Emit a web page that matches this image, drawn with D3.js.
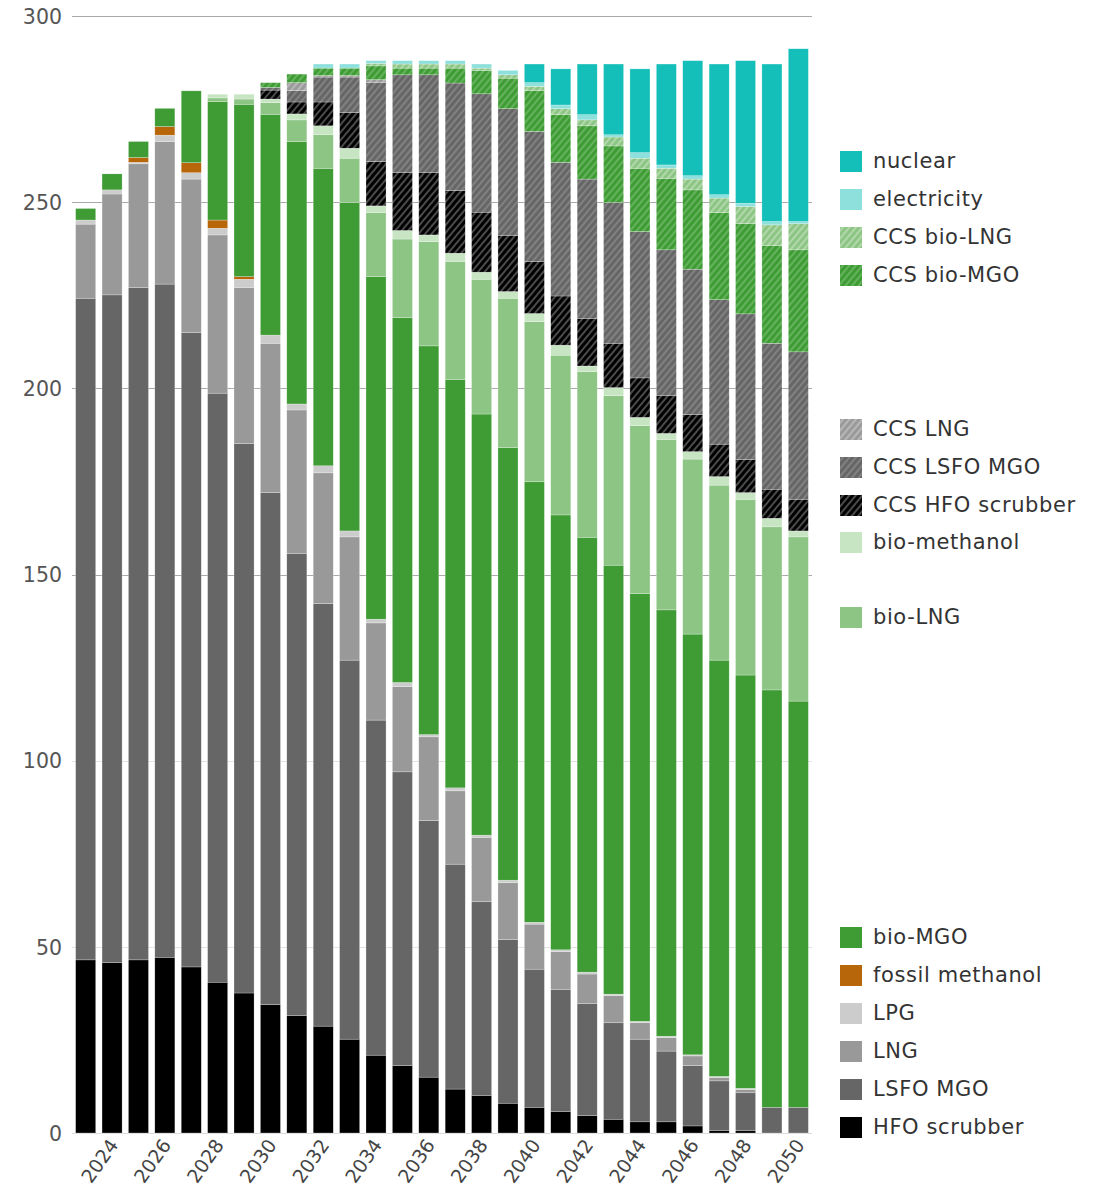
<!DOCTYPE html>
<html><head><meta charset="utf-8">
<script src="https://cdn.jsdelivr.net/npm/d3@7"></script>
<style>body{margin:0;background:#fff}svg{display:block}</style>
</head><body>
<svg id="chart" width="1104" height="1196"></svg>
<script>
const years = d3.range(2023, 2051);
const tickYears = [2024,2026,2028,2030,2032,2034,2036,2038,2040,2042,2044,2046,2048,2050];
const yTicks = [0,50,100,150,200,250,300];

const hfoScrubber   = [46.5,45.8,46.5,47.2,44.6,40.5,37.6,34.5,31.5,28.7,25.2,20.9,18.1,15.0,11.8,10.1,8.0,6.9,5.8,4.7,3.7,3.0,3.0,1.9,0.7,0.6,0,0];
const lsfoMgo       = [177.7,179.3,180.6,180.8,170.4,158.2,147.6,137.5,124.2,113.5,101.8,90.0,78.9,68.9,60.4,52.0,44.0,37.1,32.8,30.1,25.9,22.2,19.0,16.2,13.3,10.2,6.9,6.9];
const lng           = [19.9,27.1,33.2,38.3,41.2,42.5,41.9,40.1,38.5,35.1,33.1,26.1,22.9,22.5,19.7,17.3,15.2,12.1,10.1,7.9,7.3,4.4,3.6,2.6,0.9,0.9,0,0];
const lpg           = [1.1,1.1,0.4,1.7,1.7,1.8,2.2,2.2,1.6,1.9,1.6,1.0,1.1,0.6,0.8,0.6,0.7,0.5,0.5,0.5,0.4,0.4,0.4,0.3,0.3,0.3,0,0];
const fossilMethanol= [0,0,1.3,2.3,2.7,2.2,0.7,0,0,0,0,0,0,0,0,0,0,0,0,0,0,0,0,0,0,0,0,0];
const bioMgo        = [3.1,4.3,4.3,4.9,19.3,31.8,46.3,59.3,70.5,79.9,88.2,92.0,98.0,104.4,109.7,113.1,116.2,118.3,116.8,116.8,115.2,114.9,114.5,113.0,111.8,111.0,112.1,109.1];
const bioLng        = [0,0,0,0,0,1.0,1.4,3.1,5.8,9.0,11.9,17.2,21.1,28.0,31.7,36.2,40.1,43.0,42.9,44.5,45.5,45.1,45.8,47.0,47.0,47.2,43.8,44.1];
const bioMethanol   = [0,0,0,0,0,1.0,1.3,1.0,1.6,2.4,2.7,1.8,2.3,1.8,2.2,1.9,1.8,2.2,2.7,1.5,2.2,2.2,1.6,2.0,2.3,1.8,2.3,1.6];
const ccsHfo        = [0,0,0,0,0,0,0,2.4,3.2,6.4,9.6,11.9,15.6,16.8,16.8,16.1,15.1,14.0,13.2,12.8,11.9,10.6,10.1,10.0,8.7,8.9,7.8,8.5];
const ccsLsfo       = [0,0,0,0,0,0,0,0.7,3.1,6.7,9.5,21.3,26.2,26.2,28.9,31.8,34.0,34.9,35.9,37.4,37.8,39.3,39.2,39.0,38.8,39.1,39.2,39.6];
const ccsLng        = [0,0,0,0,0,0,0,0,2.1,0.4,0.4,0.7,0,0,0,0,0,0,0,0,0,0,0,0,0,0,0,0];
const ccsBioMgo     = [0,0,0,0,0,0,0,1.3,2.3,2.0,2.0,3.7,1.8,1.8,4.0,6.3,8.2,11.0,12.8,14.3,15.2,17.0,19.2,21.3,23.4,24.2,26.2,27.4];
const ccsBioLng     = [0,0,0,0,0,0,0,0,0,0,0,0.7,1.1,1.1,1.1,0.6,0.9,1.1,1.6,1.6,2.4,2.7,2.7,2.9,3.9,4.6,5.6,7.0];
const electricity   = [0,0,0,0,0,0,0,0,0,1.1,1.1,0.7,0.9,0.9,0.9,1.1,1.2,1.0,1.0,1.4,0.6,1.5,0.9,0.9,0.9,0.9,0.9,0.6];
const nuclear       = [0,0,0,0,0,0,0,0,0,0,0,0,0,0,0,0,0,5.0,9.7,13.6,19.0,22.5,27.1,30.9,35.1,38.3,42.3,46.4];

// stacking order bottom -> top
const seriesNames = ["HFO scrubber","LSFO MGO","LNG","LPG","fossil methanol","bio-MGO","bio-LNG","bio-methanol",
  "CCS HFO scrubber","CCS LSFO MGO","CCS LNG","CCS bio-MGO","CCS bio-LNG","electricity","nuclear"];
const seriesValues = [hfoScrubber,lsfoMgo,lng,lpg,fossilMethanol,bioMgo,bioLng,bioMethanol,
  ccsHfo,ccsLsfo,ccsLng,ccsBioMgo,ccsBioLng,electricity,nuclear];

const legendOrder = ["nuclear","electricity","CCS bio-LNG","CCS bio-MGO","CCS LNG","CCS LSFO MGO","CCS HFO scrubber",
  "bio-methanol","bio-LNG","bio-MGO","fossil methanol","LPG","LNG","LSFO MGO","HFO scrubber"];

const styles = {
  "HFO scrubber":{fill:"#000000"},
  "LSFO MGO":{fill:"#666666"},
  "LNG":{fill:"#999999"},
  "LPG":{fill:"#cccccc"},
  "fossil methanol":{fill:"#b8660a"},
  "bio-MGO":{fill:"#3f9c35"},
  "bio-LNG":{fill:"#8dc585"},
  "bio-methanol":{fill:"#c7e5c2"},
  "CCS HFO scrubber":{fill:"#000000",stripe:"#6a6a6a"},
  "CCS LSFO MGO":{fill:"#666666",stripe:"#8c8c8c"},
  "CCS LNG":{fill:"#9a9a9a",stripe:"#c4c4c4"},
  "CCS bio-MGO":{fill:"#3f9c35",stripe:"#74bd6c"},
  "CCS bio-LNG":{fill:"#8dc585",stripe:"#bfe0b9"},
  "electricity":{fill:"#8ee0dc"},
  "nuclear":{fill:"#14bfb9"}
};
const legendY = [161,199,237,275,429,467,505,542,617,937,975,1013,1051,1089,1127];

const svg = d3.select("#chart");
const defs = svg.append("defs");
const fillOf = {};
seriesNames.forEach((n,i)=>{
  const s = styles[n];
  if (s.stripe) {
    const id = "hatch"+i;
    const p = defs.append("pattern").attr("id",id).attr("patternUnits","userSpaceOnUse")
      .attr("width",5).attr("height",5).attr("patternTransform","rotate(40)");
    p.append("rect").attr("width",5).attr("height",5).attr("fill",s.fill);
    p.append("line").attr("x1",1).attr("y1",0).attr("x2",1).attr("y2",5)
      .attr("stroke",s.stripe).attr("stroke-width",1.4);
    fillOf[n] = `url(#${id})`;
  } else fillOf[n] = s.fill;
});

const table = years.map((yr,i)=>{
  const o = {year:yr};
  seriesNames.forEach((n,k)=>o[n]=seriesValues[k][i]);
  return o;
});
const stacked = d3.stack().keys(seriesNames)(table);

const x = d3.scaleBand().domain(years).range([73,811]).paddingInner(0.24).paddingOuter(0.1);
const y = d3.scaleLinear().domain([0,300]).range([1133,16]);

// gridlines
const grid = svg.append("g");
grid.selectAll("line").data(yTicks).join("line")
  .attr("x1",72).attr("x2",812)
  .attr("y1",d=>Math.round(y(d))+0.5).attr("y2",d=>Math.round(y(d))+0.5)
  .attr("stroke",d=>d>=150?"#a9a9a9":(d===0?"#dcdcdc":"#e2e2e2")).attr("stroke-width",1);

// y labels
const yAxis = d3.axisLeft(y).tickValues(yTicks).tickSize(0).tickPadding(0);
const ya = svg.append("g").attr("transform","translate(62,0)").call(yAxis);
ya.select(".domain").remove();
ya.selectAll("text").attr("font-family","DejaVu Sans, sans-serif").attr("font-size",20.5)
  .attr("fill","#555").attr("dy","0.35em");

// bars
svg.append("g").selectAll("g").data(stacked).join("g")
  .attr("fill",d=>fillOf[d.key])
  .selectAll("rect").data(d=>d.filter(p=>p[1]-p[0]>0)).join("rect")
  .attr("x",d=>x(d.data.year))
  .attr("width",x.bandwidth())
  .attr("y",d=>y(d[1]))
  .attr("height",d=>y(d[0])-y(d[1]))
  .attr("stroke","#ffffff").attr("stroke-width",0.5).attr("stroke-opacity",0.5);

// x labels
const xAxis = d3.axisBottom(x).tickValues(tickYears).tickSize(0).tickPadding(0);
const xa = svg.append("g").attr("transform","translate(0,1133)").call(xAxis);
xa.select(".domain").remove();
xa.selectAll("text")
  .attr("font-family","DejaVu Sans, sans-serif").attr("font-size",19).attr("fill","#444")
  .attr("text-anchor","end").attr("dy",0).attr("y",0)
  .attr("transform","translate(7,12) rotate(-55)");

// legend
const lg = svg.append("g");
legendOrder.forEach((n,i)=>{
  const g = lg.append("g").attr("transform",`translate(840,${legendY[i]})`);
  g.append("rect").attr("x",0).attr("y",-10).attr("width",22).attr("height",21).attr("fill",fillOf[n]);
  g.append("text").attr("x",33).attr("y",0).attr("dy","0.35em")
    .attr("font-family","DejaVu Sans, sans-serif").attr("font-size",21).attr("letter-spacing",0.6)
    .attr("fill","#333").text(n);
});
</script>
</body></html>
